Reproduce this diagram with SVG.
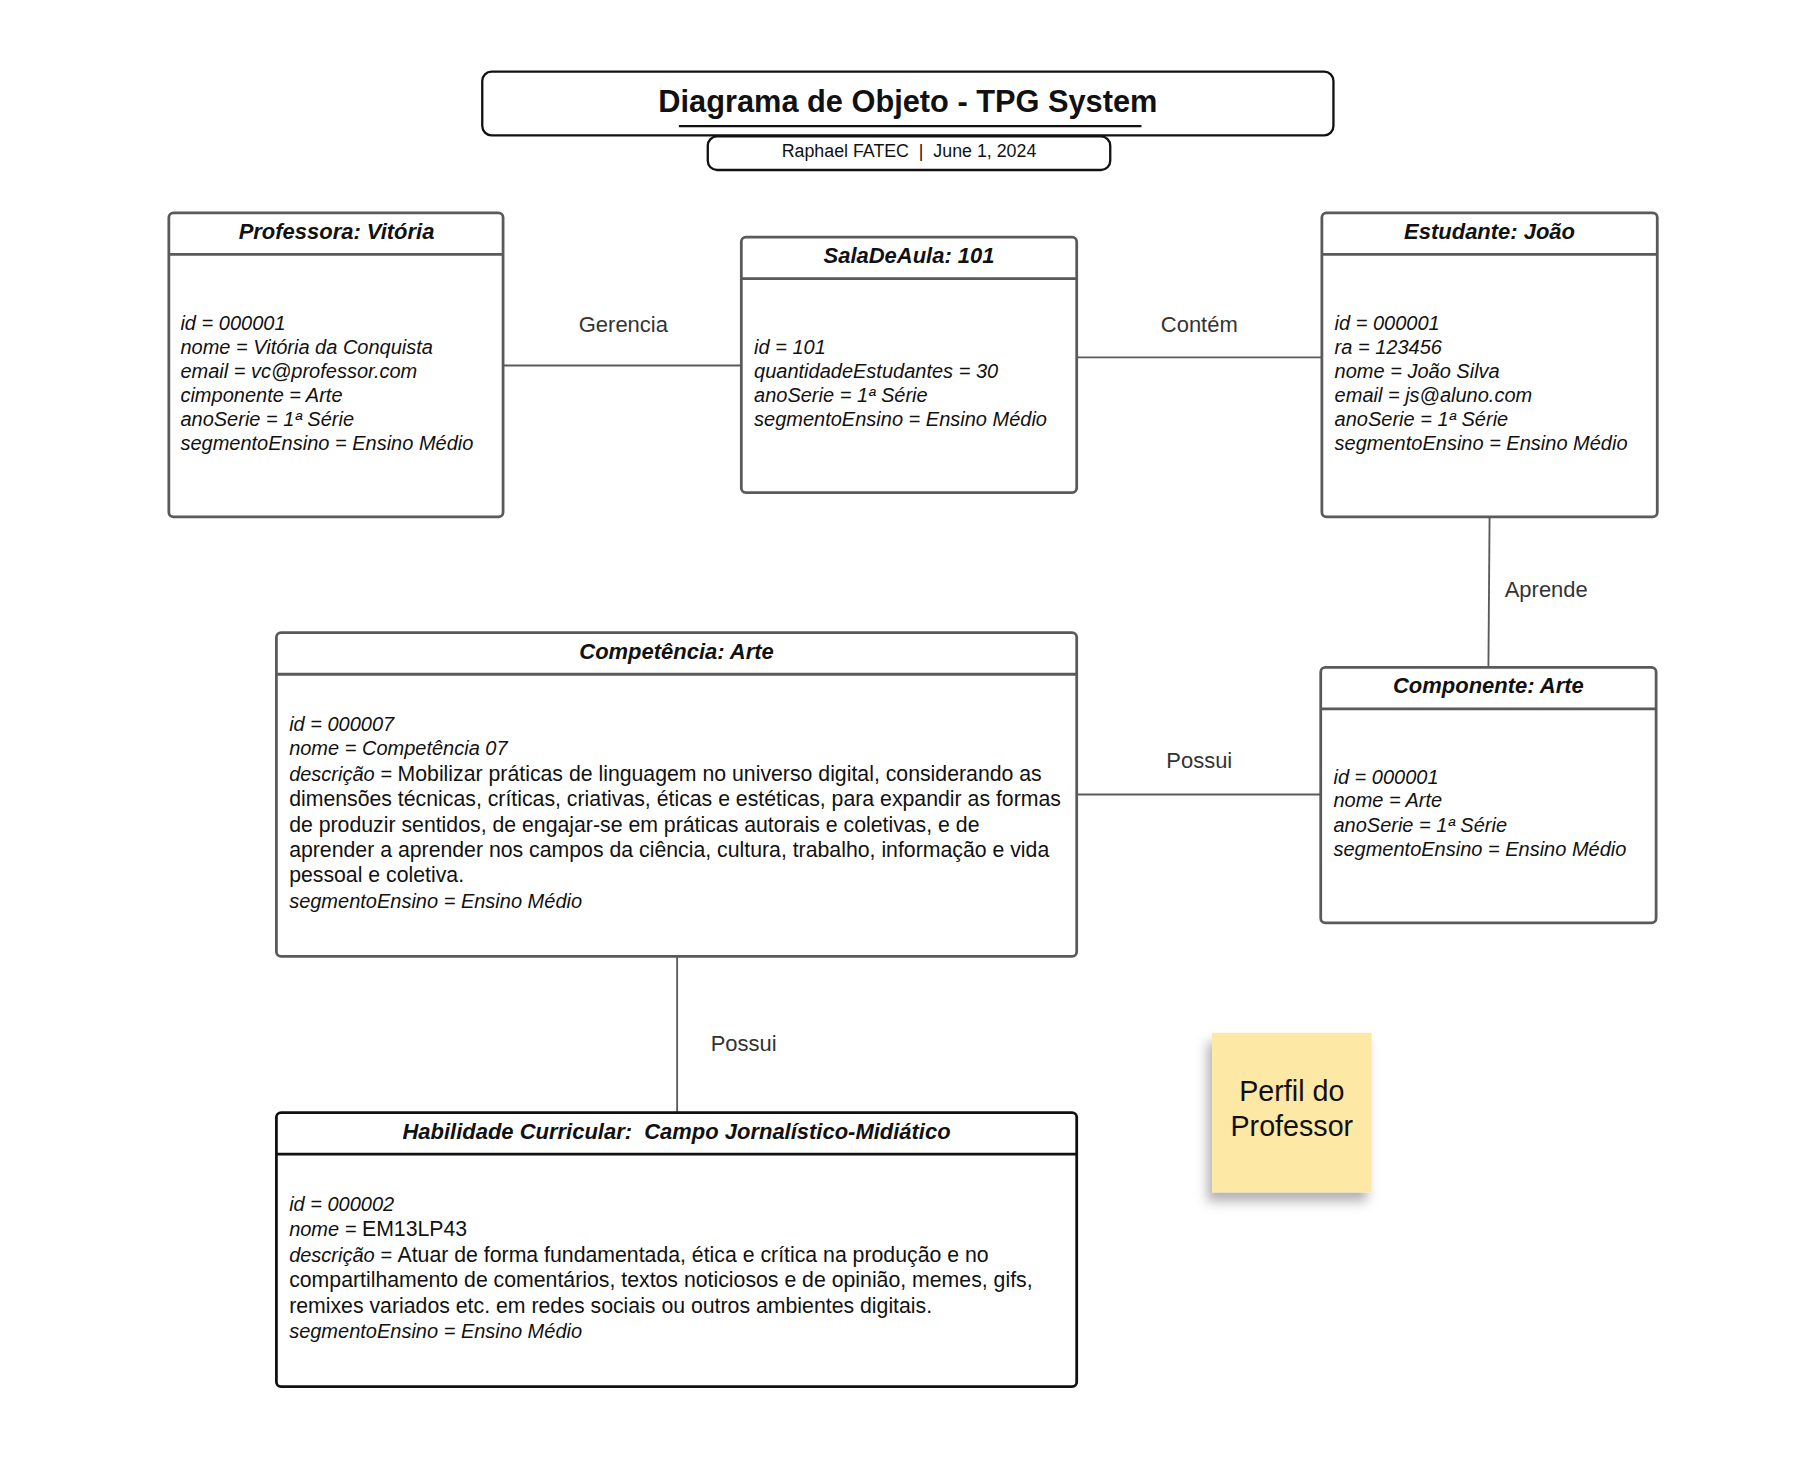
<svg xmlns="http://www.w3.org/2000/svg" width="1813" height="1471" viewBox="0 0 1813 1471">
<style>
text{font-family:"Liberation Sans",Arial,sans-serif;fill:#111}
.box{fill:#fff;stroke:#5a5a5a;stroke-width:2.4}
.div{stroke:#5a5a5a;stroke-width:2.4}
.boxk{fill:#fff;stroke:#111;stroke-width:2.4}
.divk{stroke:#111;stroke-width:2.4}
.hdr{font-size:19px;font-weight:bold;font-style:italic;text-anchor:middle}
.att{font-size:17.3px;font-style:italic}
.reg{font-size:18.4px;font-style:normal}
.lbl{font-size:19px;fill:#333;text-anchor:middle}
.conn line{stroke:#5a5a5a;stroke-width:1.6}
</style>
<defs>
<filter id="shadow" x="-30%" y="-30%" width="160%" height="170%">
<feDropShadow dx="-4" dy="8" stdDeviation="5" flood-color="#000" flood-opacity="0.3"/>
</filter>
</defs>
<rect width="1813" height="1471" fill="#fff"/>
<g transform="scale(1.1565)">
<g id="title">
<rect x="417" y="62" width="736" height="55" rx="8" fill="#fff" stroke="#111" stroke-width="2"/>
<text x="785" y="97" text-anchor="middle" font-size="26.6" font-weight="bold">Diagrama de Objeto - TPG System</text>
<line x1="587" y1="109" x2="987" y2="109" stroke="#111" stroke-width="2"/>
</g>
<g id="subtitle">
<rect x="612" y="118" width="348" height="29" rx="8" fill="#fff" stroke="#111" stroke-width="2"/>
<text x="786" y="135.5" text-anchor="middle" font-size="15.4" xml:space="preserve">Raphael FATEC  |  June 1, 2024</text>
</g>
<g class="conn" id="connectors">
<line x1="435" y1="316" x2="641" y2="316"/>
<line x1="931" y1="309" x2="1143" y2="309"/>
<line x1="1288" y1="447" x2="1287" y2="577"/>
<line x1="931" y1="687" x2="1142" y2="687"/>
<line x1="585.5" y1="827" x2="585.5" y2="962"/>
<text class="lbl" x="539" y="287.5">Gerencia</text>
<text class="lbl" x="1037" y="287.5">Contém</text>
<text class="lbl" x="1337" y="516.5">Aprende</text>
<text class="lbl" x="1037" y="664.5">Possui</text>
<text class="lbl" x="643" y="908.5">Possui</text>
</g>
<g id="professora">
<rect class="box" x="146" y="184" width="289" height="263" rx="4"/>
<line class="div" x1="146" y1="220" x2="435" y2="220"/>
<text class="hdr" x="291" y="206.5">Professora: Vitória</text>
<text class="att" x="156" y="285">id = 000001</text>
<text class="att" x="156" y="306">nome = Vitória da Conquista</text>
<text class="att" x="156" y="326.5">email = vc@professor.com</text>
<text class="att" x="156" y="347.5">cimponente = Arte</text>
<text class="att" x="156" y="368">anoSerie = 1ª Série</text>
<text class="att" x="156" y="389">segmentoEnsino = Ensino Médio</text>
</g>
<g id="sala">
<rect class="box" x="641" y="205" width="290" height="221" rx="4"/>
<line class="div" x1="641" y1="241" x2="931" y2="241"/>
<text class="hdr" x="786" y="227.5">SalaDeAula: 101</text>
<text class="att" x="652" y="306">id = 101</text>
<text class="att" x="652" y="326.5">quantidadeEstudantes = 30</text>
<text class="att" x="652" y="347.5">anoSerie = 1ª Série</text>
<text class="att" x="652" y="368">segmentoEnsino = Ensino Médio</text>
</g>
<g id="estudante">
<rect class="box" x="1143" y="184" width="290" height="263" rx="4"/>
<line class="div" x1="1143" y1="220" x2="1433" y2="220"/>
<text class="hdr" x="1288" y="206.5">Estudante: João</text>
<text class="att" x="1154" y="285">id = 000001</text>
<text class="att" x="1154" y="306">ra = 123456</text>
<text class="att" x="1154" y="326.5">nome = João Silva</text>
<text class="att" x="1154" y="347.5">email = js@aluno.com</text>
<text class="att" x="1154" y="368">anoSerie = 1ª Série</text>
<text class="att" x="1154" y="389">segmentoEnsino = Ensino Médio</text>
</g>
<g id="componente">
<rect class="box" x="1142" y="577" width="290" height="221" rx="4"/>
<line class="div" x1="1142" y1="613" x2="1432" y2="613"/>
<text class="hdr" x="1287" y="599.5">Componente: Arte</text>
<text class="att" x="1153" y="677.5">id = 000001</text>
<text class="att" x="1153" y="698">nome = Arte</text>
<text class="att" x="1153" y="719">anoSerie = 1ª Série</text>
<text class="att" x="1153" y="740">segmentoEnsino = Ensino Médio</text>
</g>
<g id="competencia">
<rect class="box" x="239" y="547" width="692" height="280" rx="4"/>
<line class="div" x1="239" y1="583" x2="931" y2="583"/>
<text class="hdr" x="585" y="569.5">Competência: Arte</text>
<text class="att" x="250" y="632">id = 000007</text>
<text class="att" x="250" y="653">nome = Competência 07</text>
<text class="att" x="250" y="675">descrição = <tspan class="reg">Mobilizar práticas de linguagem no universo digital, considerando as</tspan></text>
<text class="att reg" x="250" y="697">dimensões técnicas, críticas, criativas, éticas e estéticas, para expandir as formas</text>
<text class="att reg" x="250" y="719">de produzir sentidos, de engajar-se em práticas autorais e coletivas, e de</text>
<text class="att reg" x="250" y="741">aprender a aprender nos campos da ciência, cultura, trabalho, informação e vida</text>
<text class="att reg" x="250" y="763">pessoal e coletiva.</text>
<text class="att" x="250" y="785">segmentoEnsino = Ensino Médio</text>
</g>
<g id="habilidade">
<rect class="boxk" x="239" y="962" width="692" height="237" rx="4"/>
<line class="divk" x1="239" y1="998" x2="931" y2="998"/>
<text class="hdr" x="585" y="984.5" xml:space="preserve">Habilidade Curricular:  Campo Jornalístico-Midiático</text>
<text class="att" x="250" y="1047">id = 000002</text>
<text class="att" x="250" y="1069">nome = <tspan class="reg">EM13LP43</tspan></text>
<text class="att" x="250" y="1091">descrição = <tspan class="reg">Atuar de forma fundamentada, ética e crítica na produção e no</tspan></text>
<text class="att reg" x="250" y="1113">compartilhamento de comentários, textos noticiosos e de opinião, memes, gifs,</text>
<text class="att reg" x="250" y="1135">remixes variados etc. em redes sociais ou outros ambientes digitais.</text>
<text class="att" x="250" y="1157">segmentoEnsino = Ensino Médio</text>
</g>
<g id="sticky">
<rect x="1048" y="893" width="138" height="138" fill="#fde8a6" filter="url(#shadow)"/>
<text x="1117" y="952" text-anchor="middle" font-size="24.8">Perfil do</text>
<text x="1117" y="982" text-anchor="middle" font-size="24.8">Professor</text>
</g>
</g>
</svg>
